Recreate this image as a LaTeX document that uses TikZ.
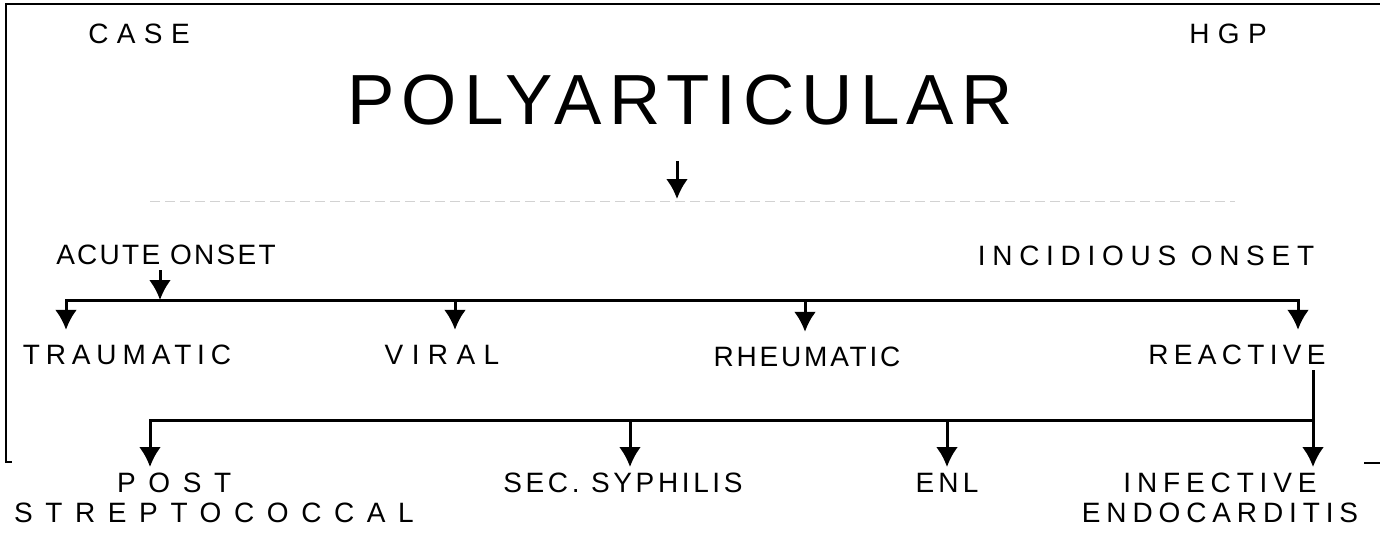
\documentclass[tikz,border=0pt]{standalone}
\usepackage{fontspec}
\setmainfont{Liberation Sans}
\usetikzlibrary{positioning, arrows.meta}

\begin{document}
\begin{tikzpicture}[
        x=1pt, y=-1pt,
        tag/.style={font=\fontsize{28}{30}\selectfont\addfontfeatures{LetterSpace=30}, anchor=base, inner sep=0pt},
        title/.style={font=\fontsize{71}{75}\selectfont\addfontfeatures{LetterSpace=10}, anchor=base, inner sep=0pt},
        onset/.style={font=\fontsize{28}{30}\selectfont\addfontfeatures{LetterSpace=#1}, anchor=base, text height=20pt, text depth=0pt, inner xsep=0pt, inner ysep=6pt},
        cause/.style={font=\fontsize{28}{30}\selectfont\addfontfeatures{LetterSpace=#1}, anchor=base, text height=20pt, text depth=0pt, inner xsep=0pt, inner ysep=14pt},
        sub/.style={font=\fontsize{28}{30}\selectfont\addfontfeatures{LetterSpace=#1}, anchor=north, align=center, inner xsep=0pt, inner ysep=6pt},
        line/.style={line width=3pt, line cap=rect},
        arrow/.style={line width=3pt, -{Latex[length=20pt, width=22pt]}},
        faint/.style={line width=1pt, gray!35, dash pattern=on 10pt off 5pt},
        frame/.style={line width=2.8pt}
    ]
        \useasboundingbox (0,0) rectangle (1380,542);

        % Frame
        \draw[frame] (1380,4) -- (6,4) -- (6,462) -- (12,462);
        \draw[frame] (1364,463) -- (1380,463);

        % Nodes
        \node[tag] (case) at (139,43) {CASE};
        \node[tag] (hgp) at (1228,43) {HGP};
        \node[title] (poly) at (680,124) {POLYARTICULAR};
        \node[onset=8] (acute) at (166,264) {ACUTE ONSET};
        \node[onset=24] (insidious) at (1146,265) {INCIDIOUS ONSET};
        \node[cause=21] (traumatic) at (127,364) {TRAUMATIC};
        \node[cause=30] (viral) at (442,364) {VIRAL};
        \node[cause=10] (rheumatic) at (807,366) {RHEUMATIC};
        \node[cause=19] (reactive) at (1237,364) {REACTIVE};
        \node[sub=45, align=left] (poststrep) at (214,467) {\hspace*{103pt}POST\\STREPTOCOCCAL};
        \node[sub=13] (syphilis) at (623,467) {SEC. SYPHILIS};
        \node[sub=15] (enl) at (947,467) {ENL};
        \node[sub=21] (endocard) at (1220,467) {INFECTIVE\\ENDOCARDITIS};

        % Branch points
        \coordinate (split) at (677,199);
        \coordinate (fL) at (150,201);
        \coordinate (fR) at (1235,201);
        \coordinate (dA) at (160,300);
        \coordinate (dT) at (66,300);
        \coordinate (dV) at (455,300);
        \coordinate (dRh) at (805,300);
        \coordinate (dRe) at (1298,300);
        \coordinate (dP) at (150,420);
        \coordinate (dS) at (630,420);
        \coordinate (dE) at (947,420);
        \coordinate (dI) at (1313,420);

        % Onset split
        \draw[arrow, shorten <=36pt] (poly.south -| split) -- (split);
        \draw[faint] (fL) -- (fR);

        % Causes
        \draw[arrow] (acute.south -| dA) -- (dA);
        \draw[line] (dT) -- (dRe);
        \foreach \d/\n in {dT/traumatic, dV/viral, dRh/rheumatic, dRe/reactive}
            \draw[arrow] (\d) -- (\d |- \n.north);

        % Reactive
        \draw[arrow, shorten <=-8pt] (reactive.south -| dI) -- (dI |- endocard.north);
        \draw[line] (dP) -- (dI);
        \foreach \d/\n in {dP/poststrep, dS/syphilis, dE/enl}
            \draw[arrow] (\d) -- (\d |- \n.north);
    \end{tikzpicture}
\end{document}
